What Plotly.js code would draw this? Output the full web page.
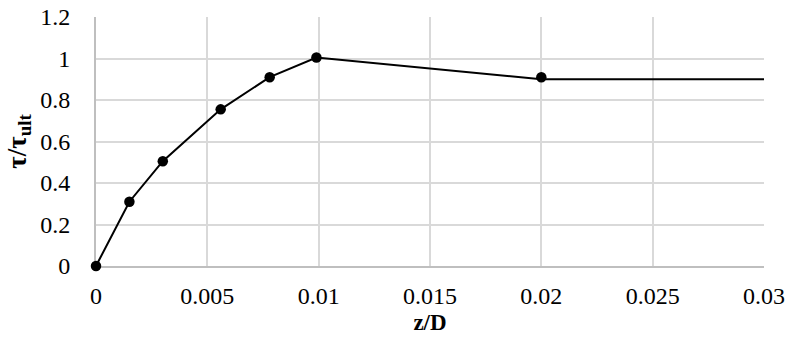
<!DOCTYPE html>
<html>
<head>
<meta charset="utf-8">
<script src="https://cdn.plot.ly/plotly-3.0.1.min.js"></script>
<style>html,body{margin:0;padding:0;background:#fff;}#chart{width:802px;height:355px;}</style>
</head>
<body>
<div id="chart"></div>
<script>
// data
var pointZD  = [0, 0.0015, 0.003, 0.0056, 0.0078, 0.0099, 0.02];
var pointTau = [0, 0.31, 0.505, 0.755, 0.91, 1.005, 0.91];
var lineZD   = [0, 0.0015, 0.003, 0.0056, 0.0078, 0.0099, 0.02, 0.03];
var lineTau  = [0, 0.31, 0.505, 0.755, 0.91, 1.005, 0.9, 0.9];
var xTitle = "z/D";
var yTitle = "τ/τ<sub>ult</sub>";

var font = "'Liberation Serif', 'Times New Roman', serif";
var traces = [
  {x: lineZD, y: lineTau, mode: "lines", line: {color: "#000", width: 2}, hoverinfo: "skip", cliponaxis: false},
  {x: pointZD, y: pointTau, mode: "markers", marker: {color: "#000", size: 10.5, line: {width: 0}}, cliponaxis: false}
];
var layout = {
  width: 802, height: 355,
  margin: {l: 96, r: 38, t: 17, b: 89},
  paper_bgcolor: "#fff", plot_bgcolor: "#fff",
  showlegend: false,
  font: {family: font, size: 24, color: "#000"},
  xaxis: {
    range: [0, 0.03], dtick: 0.005, tick0: 0,
    showgrid: true, gridcolor: "#d9d9d9", gridwidth: 2,
    showline: true, linecolor: "#bfbfbf", linewidth: 2,
    zeroline: false, ticks: "", ticklabelstandoff: 7, layer: "below traces",
    tickfont: {family: font, size: 24},
    title: {text: "<b>" + xTitle + "</b>", font: {family: font, size: 23}, standoff: 6}
  },
  yaxis: {
    range: [0, 1.2], dtick: 0.2, tick0: 0,
    showgrid: true, gridcolor: "#d9d9d9", gridwidth: 2,
    showline: true, linecolor: "#bfbfbf", linewidth: 2,
    zeroline: false, ticks: "", ticklabelstandoff: 19, layer: "below traces",
    tickfont: {family: font, size: 24},
    title: {text: "<b>" + yTitle + "</b>", font: {family: font, size: 27}, standoff: 6}
  }
};
Plotly.newPlot("chart", traces, layout, {displayModeBar: false, staticPlot: true});
</script>
</body>
</html>
